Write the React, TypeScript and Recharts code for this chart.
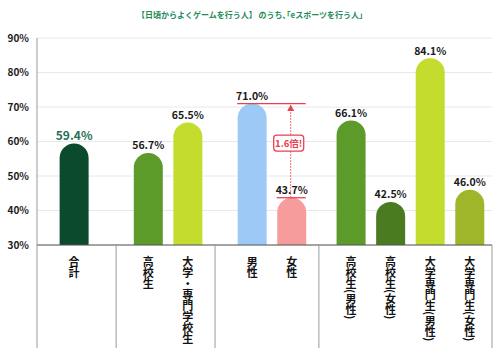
import React from 'react';
import { BarChart, Bar, XAxis, YAxis, CartesianGrid, Cell, LabelList, ReferenceLine } from 'recharts';

// ---- data ----
const categories = ['合計', '高校生', '大学・専門学校生', '男性', '女性', '高校生(男性)', '高校生(女性)', '大学専門生(男性)', '大学専門生(女性)'];
const values = [59.4, 56.7, 65.5, 71.0, 43.7, 66.1, 42.5, 84.1, 46.0];
const groups = [[0], [1, 2], [3, 4], [5, 6, 7, 8]];
const yTicks = [30, 40, 50, 60, 70, 80, 90];
const title = '【日頃からよくゲームを行う人】 のうち､｢eスポーツを行う人｣';
const ratioLabel = '1.6倍!';
const compareFrom = '女性';
const compareTo = '男性';
const highlightCategory = '合計';

// ---- style / layout ----
const barColors = ['#0b4b2c', '#5c9a2a', '#c3dc2e', '#9dc9f6', '#f69c9c', '#5c9a2a', '#4a7b20', '#c3dc2e', '#9fb62b'];
const GROUP_SLOTS = [16, 20, 21, 35];
const GROUP_LEAD = [7, 6, 7, 6];
const BAR_STEP = 8;
const BAR_W = 29;
const RED = '#e8404f';
const FONT = '"Noto Sans CJK JP", "Noto Sans", sans-serif';

type Row = {
  key: string;
  label: string;
  value: number | null;
  mainLabel: number | null;
  otherLabel: number | null;
  fill: string;
  sep: boolean;
  sepEnd?: boolean;
};
const rows: Row[] = [];
groups.forEach((g, gi) => {
  for (let s = 0; s < GROUP_SLOTS[gi]; s++) {
    const k = s - GROUP_LEAD[gi];
    const idx = k >= 0 && k % BAR_STEP === 0 ? g[k / BAR_STEP] : undefined;
    if (idx !== undefined) {
      const isMain = categories[idx] === highlightCategory;
      rows.push({
        key: categories[idx],
        label: categories[idx],
        value: values[idx],
        mainLabel: isMain ? values[idx] : null,
        otherLabel: isMain ? null : values[idx],
        fill: barColors[idx],
        sep: s === 0,
      });
    } else {
      rows.push({ key: `_s${gi}_${s}`, label: '', value: null, mainLabel: null, otherLabel: null, fill: 'none', sep: s === 0 });
    }
  }
});
rows[rows.length - 1].sepEnd = true;

const RoundBar = (p: any) => {
  const { x, y, width, height, fill, value } = p;
  if (value == null || !height || height <= 0) return null;
  const cx = x + width / 2;
  const w = BAR_W / 2;
  const bottom = y + height;
  const d = `M${cx - w},${bottom} L${cx - w},${y + w} A${w},${w} 0 0 1 ${cx + w},${y + w} L${cx + w},${bottom} Z`;
  return <path d={d} fill={fill} />;
};

const makeLabel = (size: number, color: string) => (p: any) => {
  const { x, y, width, value } = p;
  if (value == null || value === '') return null;
  return (
    <text x={x + width / 2} y={y - 3.5} textAnchor="middle" fontFamily={FONT} fontWeight={700} fontSize={size} fill={color}>
      {`${Number(value).toFixed(1)}%`}
    </text>
  );
};
const MainLabel = makeLabel(12, '#2a6f57');
const OtherLabel = makeLabel(10.5, '#1a1a1a');

const Tick = (p: any) => {
  const { x, y, payload } = p;
  const row = rows.find((r) => r.key === payload.value);
  if (!row) return null;
  const half = typeof payload.offset === 'number' ? payload.offset : 0;
  return (
    <g>
      {row.sep && <line x1={x - half} x2={x - half} y1={y} y2={y + 103} stroke="#9a9a9a" strokeWidth={1} />}
      {row.sepEnd && <line x1={x + half} x2={x + half} y1={y} y2={y + 103} stroke="#9a9a9a" strokeWidth={1} />}
      {row.label && (
        <text
          x={x}
          y={y + 11}
          textAnchor="start"
          fontFamily={FONT}
          fontWeight={700}
          fontSize={11}
          fill="#111"
          style={{ writingMode: 'vertical-rl' } as any}
        >
          {row.label}
        </text>
      )}
    </g>
  );
};

const TopLine = (p: any) => {
  const { x1, x2, y1 } = p;
  return <line x1={Math.min(x1, x2) - 15} x2={Math.max(x1, x2) + 14} y1={y1} y2={y1} stroke={RED} strokeWidth={1.3} />;
};

const RatioMark = (p: any) => {
  const { x1, y1, y2 } = p;
  const yTop = Math.min(y1, y2);
  const yBot = Math.max(y1, y2);
  const ax = x1 - 1;
  const mid = yTop + (yBot - yTop) * 0.42;
  return (
    <g>
      <line x1={x1 - 15} x2={x1 + 14} y1={yBot} y2={yBot} stroke={RED} strokeWidth={1.3} />
      <line x1={ax} x2={ax} y1={yBot} y2={yTop + 7} stroke={RED} strokeWidth={1} strokeDasharray="1.5 1.5" />
      <path d={`M${ax},${yTop + 1} L${ax - 3.5},${yTop + 7.5} L${ax + 3.5},${yTop + 7.5} Z`} fill={RED} />
      <rect x={ax - 17} y={mid - 8} width={30} height={16} rx={3} fill="#fff" stroke={RED} strokeWidth={1.3} />
      <text x={ax - 2} y={mid + 3.5} textAnchor="middle" fontFamily={FONT} fontWeight={700} fontSize={9.5} fill={RED}>
        {ratioLabel}
      </text>
    </g>
  );
};

export default function App() {
  const fromVal = values[categories.indexOf(compareFrom)];
  const toVal = values[categories.indexOf(compareTo)];
  return (
    <div style={{ position: 'absolute', left: 0, top: 0, width: 500, height: 360, background: '#fff' }}>
      <div
        style={{
          position: 'absolute',
          left: 0,
          top: 10,
          width: 500,
          textAlign: 'center',
          fontFamily: FONT,
          fontWeight: 700,
          fontSize: 8,
          lineHeight: '10px',
          color: '#1e8b57',
        }}
      >
        {title}
      </div>
      <BarChart
        width={500}
        height={360}
        data={rows}
        margin={{ top: 38, right: 8, bottom: 0, left: 0 }}
        barCategoryGap={0}
      >
        <CartesianGrid vertical={false} stroke="#e8e8e8" />
        <XAxis
          dataKey="key"
          type="category"
          interval={0}
          height={115}
          tickSize={0}
          tickMargin={0}
          tickLine={false}
          axisLine={{ stroke: '#555', strokeWidth: 1 }}
          tick={<Tick />}
        />
        <YAxis
          domain={[30, 90]}
          ticks={yTicks}
          allowDataOverflow
          width={37}
          tickSize={6}
          tickMargin={2}
          tickLine={false}
          axisLine={{ stroke: '#9a9a9a' }}
          tickFormatter={(v: number) => `${v}%`}
          tick={{ fontSize: 10, fontWeight: 700, fill: '#1a1a1a', fontFamily: FONT }}
        />
        <Bar dataKey="value" isAnimationActive={false} shape={<RoundBar />}>
          {rows.map((r) => (
            <Cell key={r.key} fill={r.fill} />
          ))}
          <LabelList dataKey="mainLabel" content={<MainLabel />} />
          <LabelList dataKey="otherLabel" content={<OtherLabel />} />
        </Bar>
        <ReferenceLine
          segment={[{ x: compareTo, y: toVal }, { x: compareFrom, y: toVal }]}
          shape={<TopLine />}
          ifOverflow="visible"
        />
        <ReferenceLine
          segment={[{ x: compareFrom, y: fromVal }, { x: compareFrom, y: toVal }]}
          shape={<RatioMark />}
          ifOverflow="visible"
        />
      </BarChart>
    </div>
  );
}
